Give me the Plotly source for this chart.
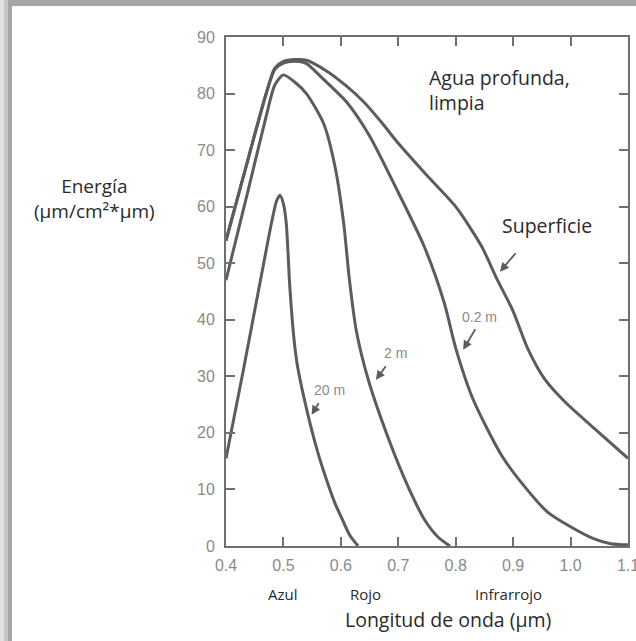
import plotly.graph_objects as go

# --- Data (radiant energy vs wavelength at depth) ---
# Superficie (surface)
wl_surface = [0.40, 0.44, 0.47, 0.485, 0.50, 0.52, 0.54, 0.575, 0.61, 0.64, 0.67,
              0.70, 0.75, 0.80, 0.845, 0.87, 0.90, 0.925, 0.955, 0.99, 1.05, 1.10]
en_surface = [54.0, 69.0, 80.0, 84.5, 85.7, 86.0, 85.9, 84.0, 81.3, 78.5, 75.0,
              71.2, 65.5, 60.0, 53.0, 47.6, 41.5, 35.0, 29.5, 25.5, 20.0, 15.5]

# 0.2 m
wl_02m = [0.40, 0.44, 0.47, 0.485, 0.50, 0.52, 0.54, 0.57, 0.61, 0.65, 0.70, 0.745,
          0.78, 0.80, 0.83, 0.88, 0.92, 0.96, 1.00, 1.04, 1.07, 1.10]
en_02m = [54.0, 69.0, 80.0, 84.3, 85.4, 85.7, 85.3, 82.5, 78.5, 72.5, 62.5, 53.0,
          43.0, 35.0, 26.0, 16.0, 10.5, 6.0, 3.4, 1.3, 0.4, 0.2]

# 2 m
wl_2m = [0.40, 0.44, 0.47, 0.485, 0.50, 0.52, 0.54, 0.57, 0.59, 0.605, 0.615,
         0.627, 0.648, 0.684, 0.717, 0.746, 0.77, 0.79]
en_2m = [47.0, 63.5, 76.0, 81.5, 83.3, 82.0, 80.0, 74.7, 67.0, 57.0, 47.0,
         38.0, 29.3, 18.7, 10.5, 4.6, 1.5, 0.0]

# 20 m
wl_20m = [0.40, 0.43, 0.46, 0.48, 0.488, 0.494, 0.50, 0.505, 0.511, 0.519, 0.525,
          0.542, 0.56, 0.575, 0.59, 0.603, 0.615, 0.63]
en_20m = [15.5, 31.0, 47.0, 57.5, 61.0, 62.0, 60.5, 57.0, 46.0, 36.0, 31.5,
          23.5, 16.5, 11.7, 7.5, 4.6, 2.0, 0.0]

x_ticks = [0.4, 0.5, 0.6, 0.7, 0.8, 0.9, 1.0, 1.1]
x_tick_labels = ['0.4', '0.5', '0.6', '0.7', '0.8', '0.9', '1.0', '1.1']
y_ticks = [0, 10, 20, 30, 40, 50, 60, 70, 80, 90]

# --- Layout geometry (pixels in a 636x641 page) ---
W, H = 636, 641
L, R, T, B = 226, 8, 37, 95
PW, PH = W - L - R, H - T - B


def px(x):
    return (x - L) / PW


def py(y):
    return (H - B - y) / PH


LINE = '#5c5c5c'
AXIS = '#707070'
TICKTXT = '#8a8a8a'
TXT = '#2a2a2a'
SANS = 'Open Sans, Noto Sans, sans-serif'
ARIAL = 'Liberation Sans, Arial, sans-serif'

fig = go.Figure()
for xs, ys in [(wl_surface, en_surface), (wl_02m, en_02m), (wl_2m, en_2m), (wl_20m, en_20m)]:
    fig.add_trace(go.Scatter(x=xs, y=ys, mode='lines',
                             line=dict(color=LINE, width=3, shape='spline', smoothing=0.7),
                             showlegend=False, hoverinfo='skip'))

fig.update_xaxes(range=[0.4, 1.1], tickvals=x_ticks, ticktext=x_tick_labels,
                 showgrid=False, zeroline=False, showline=True, linecolor=AXIS, linewidth=2,
                 mirror='ticks', ticks='inside', ticklen=9, tickwidth=2, tickcolor=AXIS,
                 ticklabelstandoff=4, ticklabeloverflow='allow', automargin=False,
                 tickfont=dict(family=ARIAL, size=16, color=TICKTXT))
fig.update_yaxes(range=[0, 90], tickvals=y_ticks,
                 showgrid=False, zeroline=False, showline=True, linecolor=AXIS, linewidth=2,
                 mirror='ticks', ticks='inside', ticklen=9, tickwidth=2, tickcolor=AXIS,
                 ticklabelstandoff=6, automargin=False,
                 tickfont=dict(family=ARIAL, size=16, color=TICKTXT))

anns = []
# curve labels with arrows (tail offsets in px)
for tip_x, tip_y, ax, ay in [(0.877, 48.5, 17, -20), (0.813, 34.7, 13, -22),
                             (0.661, 29.4, 11, -15), (0.549, 23.2, 8, -13)]:
    anns.append(dict(x=tip_x, y=tip_y, ax=ax, ay=ay, text='', showarrow=True,
                     arrowhead=2, arrowsize=1, arrowwidth=1.8, arrowcolor=LINE))


def label(x, y, text, size, family=SANS, color=TXT, xanchor='center', align='center'):
    return dict(x=px(x), y=py(y), xref='paper', yref='paper', text=text, showarrow=False,
                xanchor=xanchor, yanchor='middle', align=align,
                font=dict(family=family, size=size, color=color))


anns += [
    label(547, 225, 'Superficie', 19.5),
    label(427, 90, 'Agua profunda,<br>limpia', 19.5, xanchor='left', align='left'),
    label(479, 317, '0.2 m', 14, ARIAL, TICKTXT),
    label(395, 353, '2 m', 14, ARIAL, TICKTXT),
    label(329, 390, '20 m', 14, ARIAL, TICKTXT),
    label(94, 198, 'Energía<br>(µm/cm²*µm)', 19),
    label(283, 594, 'Azul', 15),
    label(365, 594, 'Rojo', 15),
    label(508, 594, 'Infrarrojo', 15),
    label(448, 619, 'Longitud de onda (µm)', 19.5),
]

# grey picture frame on the left and top edges: grey paper, white card on top of it
shapes = [dict(type='rect', xref='paper', yref='paper', x0=px(12), x1=px(W + 20),
               y0=py(H + 20), y1=py(6), fillcolor='white', line_width=0, layer='below')]
for x0, x1, c in [(0, 4, '#e0e0e0'), (4, 8, '#c6c6c6')]:
    shapes.append(dict(type='rect', xref='paper', yref='paper', x0=px(x0), x1=px(x1),
                       y0=py(H + 20), y1=py(0), fillcolor=c, line_width=0, layer='below'))

fig.update_layout(width=W, height=H, margin=dict(l=L, r=R, t=T, b=B, autoexpand=False),
                  paper_bgcolor='#a6a6a6', plot_bgcolor='white',
                  annotations=anns, shapes=shapes)

# drop the default 8px page margin so the figure sits at the window origin
fig.write_html('out.html', config={'displayModeBar': False},
               post_script="document.body.style.margin='0';")
